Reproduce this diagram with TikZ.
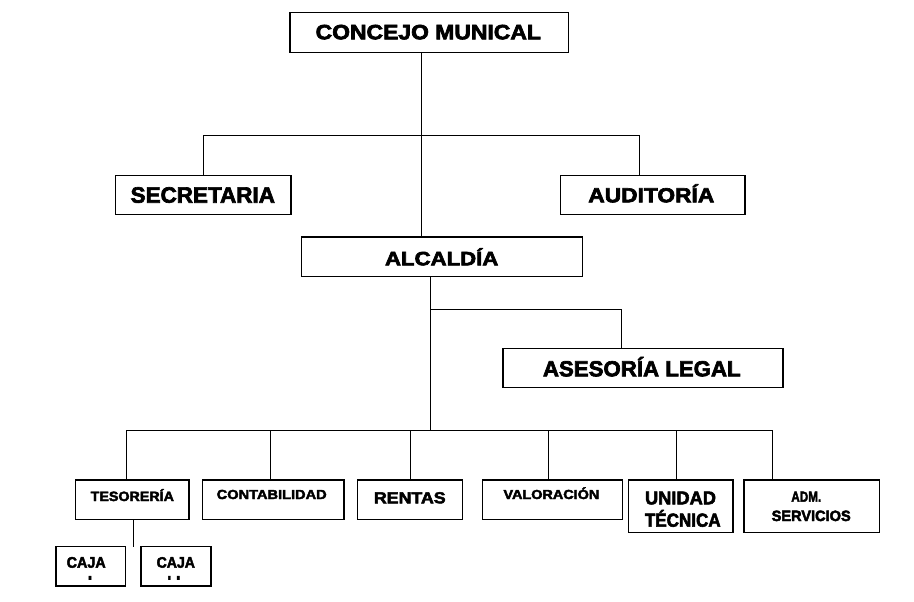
\documentclass[tikz,border=0pt]{standalone}
\usepackage{fontspec}
\usepackage{graphicx}
\newfontfamily\blk{Liberation Sans Bold}[FakeBold=3]
\newcommand\lbl[3]{\resizebox{#1pt}{#2pt}{\smash{\blk #3}\vphantom{\blk A}}}
\newcommand\lblh[2]{\resizebox{!}{#1pt}{\smash{\blk #2}\vphantom{\blk A}}}
\tikzset{
  box/.style={draw=black, line width=1.2pt, rectangle, inner sep=0pt, fill=white},
  txt/.style={inner sep=0pt, anchor=base},
  conn/.style={draw=black, line width=0.9pt},
}
\begin{document}
\begin{tikzpicture}[x=1pt,y=-1pt]
\useasboundingbox[fill=white] (0,0) rectangle (914,602);
% connector coordinates
\coordinate (v1) at (421.7,135);
\coordinate (h1r) at (639.5,135);
\coordinate (v2) at (430,430);
\coordinate (a1) at (621.3,309);
\coordinate (b1) at (126.7,430);
\coordinate (b2) at (270.7,430);
\coordinate (b3) at (410.5,430);
\coordinate (b4) at (548.3,430);
\coordinate (b5) at (676,430);
\coordinate (b6) at (772.3,430);
\coordinate (t1) at (133.3,546.7);
% boxes
\node[box, minimum width=278.3pt, minimum height=39.6pt] (con) at (429.2,32.5) {};
\node[box, minimum width=175.3pt, minimum height=38.6pt] (sec) at (203.3,195) {};
\node[box, minimum width=184.3pt, minimum height=38.6pt] (aud) at (652.8,195) {};
\node[box, minimum width=280.6pt, minimum height=39.3pt] (alc) at (442,256.7) {};
\node[box, minimum width=280pt, minimum height=38.6pt] (ase) at (643,368) {};
\node[box, minimum width=113.3pt, minimum height=39.3pt] (tes) at (132.3,499.7) {};
\node[box, minimum width=141.7pt, minimum height=39.3pt] (cont) at (273.2,499.7) {};
\node[box, minimum width=105.4pt, minimum height=39.3pt] (ren) at (410,499.7) {};
\node[box, minimum width=140pt, minimum height=39.3pt] (val) at (552.7,499.7) {};
\node[box, minimum width=104.7pt, minimum height=52.7pt] (uni) at (680.7,506.3) {};
\node[box, minimum width=135.7pt, minimum height=52.7pt] (adm) at (811.8,506.3) {};
\node[box, minimum width=69.7pt, minimum height=39.3pt] (caja1) at (90.8,566.3) {};
\node[box, minimum width=70pt, minimum height=39.3pt] (caja2) at (176,566.3) {};
% connectors
\draw[conn] (v1 |- con.south) -- (v1 |- alc.north);
\draw[conn] (sec.north) |- (h1r) -- (h1r |- aud.north);
\draw[conn] (v2 |- alc.south) -- (v2);
\draw[conn] (a1 -| v2) -- (a1) -- (a1 |- ase.north);
\draw[conn] (b1) -- (b6);
\draw[conn] (b1) -- (b1 |- tes.north);
\draw[conn] (b2) -- (b2 |- cont.north);
\draw[conn] (b3) -- (b3 |- ren.north);
\draw[conn] (b4) -- (b4 |- val.north);
\draw[conn] (b5) -- (b5 |- uni.north);
\draw[conn] (b6) -- (b6 |- adm.north);
\draw[conn] (t1 |- tes.south) -- (t1);
% labels
\node[txt] (lcon) at (428.3,39.3) {\lbl{225.3}{14.3}{CONCEJO MUNICAL}};
\node[txt] (lsec) at (202.8,202.7) {\lbl{144.3}{15.3}{SECRETARIA}};
\node[txt] (laud) at (651.3,202.3) {\lbl{126}{14}{AUDITORÍA}};
\node[txt] (lalc) at (441.7,265.3) {\lbl{113.3}{13.3}{ALCALDÍA}};
\node[txt] (lase) at (641.8,376.3) {\lbl{197.7}{15}{ASESORÍA LEGAL}};
\node[txt] (ltes) at (132.3,501) {\lbl{83.3}{9.3}{TESORERÍA}};
\node[txt] (lcont) at (271.7,499) {\lbl{110}{9}{CONTABILIDAD}};
\node[txt] (lren) at (409.8,503.3) {\lbl{71.7}{11}{RENTAS}};
\node[txt] (lval) at (551.4,499) {\lbl{95.8}{9}{VALORACIÓN}};
\node[txt] (luni1) at (680.5,504.3) {\lbl{71}{12.7}{UNIDAD}};
\node[txt] (luni2) at (682.8,526.7) {\lbl{75.7}{13}{TÉCNICA}};
\node[txt] (ladm1) at (806.3,501.7) {\lbl{30}{10}{ADM.}};
\node[txt] (ladm2) at (811.2,521) {\lbl{79}{10.3}{SERVICIOS}};
\node[txt] (lc1) at (86.2,567.7) {\lbl{39}{10.5}{CAJA}};
\node[txt] (lc2) at (175.8,567.7) {\lbl{38.3}{10.5}{CAJA}};
\begin{scope}
  \clip (56,570) rectangle (211,579.5);
  \node[txt] (lc1b) at (90,586.5) {\lblh{10.5}{I}};
  \node[txt] (lc2b) at (173.8,586.5) {\lblh{10.5}{I\kern3pt I}};
\end{scope}
\end{tikzpicture}
\end{document}
